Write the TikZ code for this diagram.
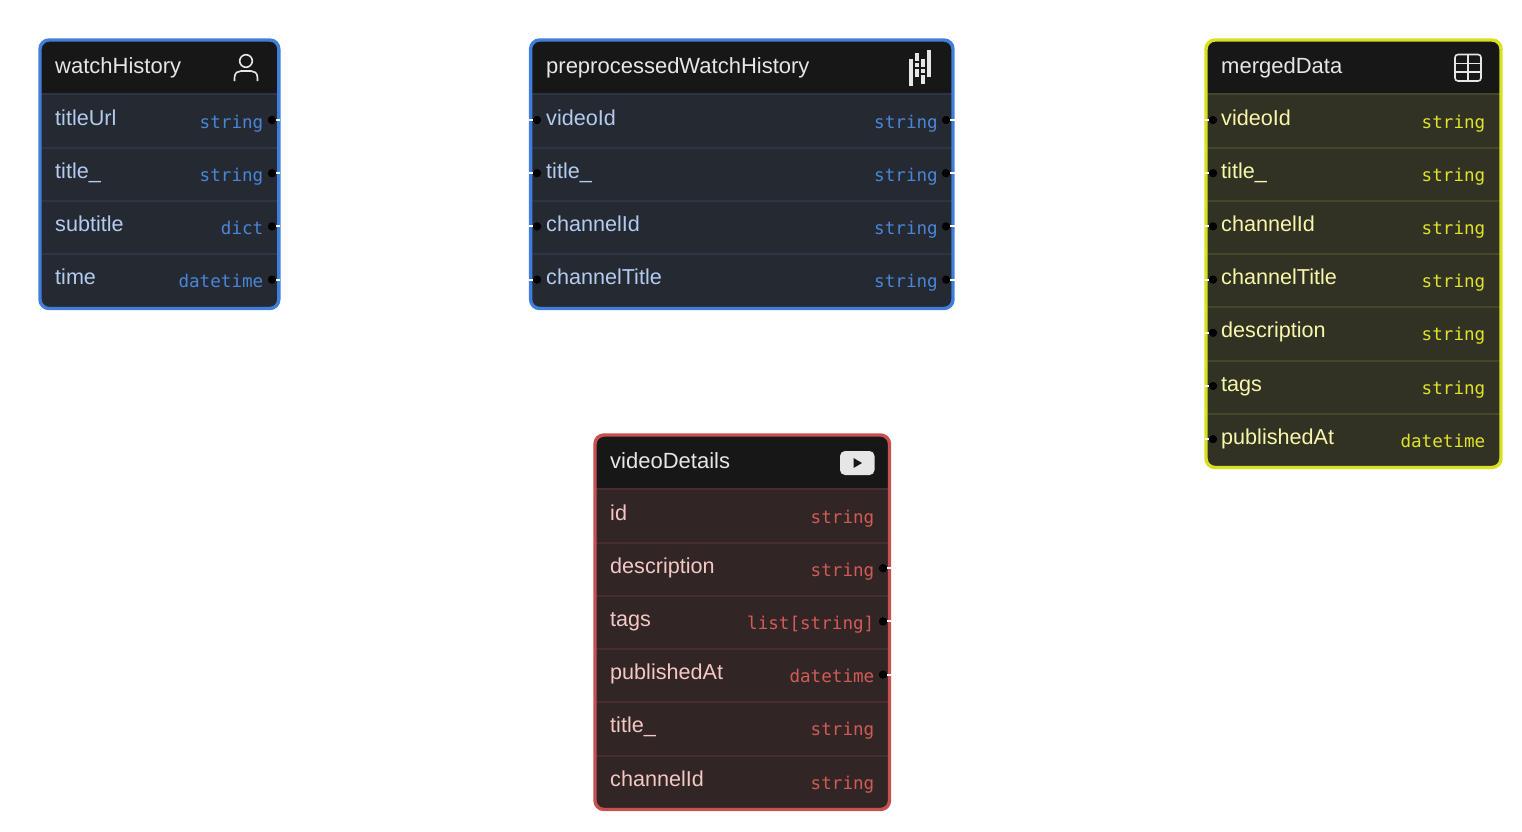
\documentclass[tikz,border=0pt]{standalone}
\usepackage{fontspec}
\setmainfont{Liberation Sans}
\setmonofont{DejaVu Sans Mono}
\definecolor{blueline}{HTML}{3F7FDB}
\definecolor{bluerow}{HTML}{242932}
\definecolor{bluesep}{HTML}{2B3545}
\definecolor{bluename}{HTML}{B4CBF0}
\definecolor{bluetype}{HTML}{4A86D8}
\definecolor{yellowline}{HTML}{D8E021}
\definecolor{yellowrow}{HTML}{323224}
\definecolor{yellowsep}{HTML}{45472A}
\definecolor{yellowname}{HTML}{F7F7AC}
\definecolor{yellowtype}{HTML}{E0E32B}
\definecolor{redline}{HTML}{C75050}
\definecolor{redrow}{HTML}{322525}
\definecolor{redsep}{HTML}{472D2D}
\definecolor{redname}{HTML}{F3C8C4}
\definecolor{redtype}{HTML}{D25B56}
\definecolor{headfill}{HTML}{171717}
\definecolor{headtext}{HTML}{E6E6E6}
\tikzset{
  cardbody/.style={line width=3.4pt,rounded corners=9pt},
  title/.style={anchor=base west,inner sep=0pt,text=headtext,font=\fontsize{22}{24}\selectfont},
  fieldname/.style={anchor=base west,inner sep=0pt,font=\fontsize{21.6}{24}\selectfont},
  fieldtype/.style={anchor=base east,inner sep=0pt,font=\ttfamily\fontsize{17.6}{20}\selectfont},
  handle/.style={circle,fill=black,inner sep=0pt,minimum size=8pt},
  stub/.style={white,line width=2pt},
  iconline/.style={headtext,line width=1.6pt}
}
\begin{document}
\begin{tikzpicture}[x=1pt,y=-1pt]
\useasboundingbox (0,0) rectangle (1522,831);

% watchHistory
\fill[cardbody,bluerow] (40,40) rectangle (278.8,308.5);
\fill[headfill] (40,93) [rounded corners=9pt] -- (40,40) -- (278.8,40) [sharp corners] -- (278.8,93) -- cycle;
\foreach \r in {0,1,2,3}
  \draw[bluesep,line width=2pt] (41,94.2+53.3*\r) -- (277,94.2+53.3*\r);
\draw[cardbody,draw=blueline] (40,40) rectangle (278.8,308.5);
\node[title] (wh) at (55,73) {watchHistory};
\foreach \r/\n/\t in {0/titleUrl/string,1/title\_/string,2/subtitle/dict,3/time/datetime} {
  \node[fieldname,text=bluename] (wh-name-\r) at (55,125+53.2*\r) {\n};
  \node[fieldtype,text=bluetype] (wh-type-\r) at (263.5,128+53.2*\r) {\t};
  \node[handle] (wh-out-\r) at (272,120+53.2*\r) {};
  \coordinate (wh-end-\r) at (280,120+53.2*\r);
  \draw[stub] (wh-out-\r) -- (wh-end-\r);
  \node[handle] at (wh-out-\r) {};
}
% person icon
\draw[iconline] (246,61) circle (6.3);
\draw[iconline] (234.5,81) -- (234.5,78) .. controls (234.5,72.5) and (238,71) .. (241,71) -- (251,71) .. controls (254,71) and (257.5,72.5) .. (257.5,78) -- (257.5,81);

% preprocessedWatchHistory
\fill[cardbody,bluerow] (530.6,40) rectangle (953,308.5);
\fill[headfill] (530.6,93) [rounded corners=9pt] -- (530.6,40) -- (953,40) [sharp corners] -- (953,93) -- cycle;
\foreach \r in {0,1,2,3}
  \draw[bluesep,line width=2pt] (532,94.2+53.3*\r) -- (952,94.2+53.3*\r);
\draw[cardbody,draw=blueline] (530.6,40) rectangle (953,308.5);
\node[title] (pv) at (546,73) {preprocessedWatchHistory};
\foreach \r/\n/\t in {0/videoId/string,1/title\_/string,2/channelId/string,3/channelTitle/string} {
  \node[fieldname,text=bluename] (pv-name-\r) at (546,125+53.2*\r) {\n};
  \node[fieldtype,text=bluetype] (pv-type-\r) at (938,128+53.2*\r) {\t};
  \node[handle] (pv-in-\r) at (537,120+53.2*\r) {};
  \node[handle] (pv-out-\r) at (946,120+53.2*\r) {};
  \coordinate (pv-start-\r) at (528.5,120+53.2*\r);
  \coordinate (pv-end-\r) at (954.5,120+53.2*\r);
  \draw[stub] (pv-start-\r) -- (pv-in-\r);
  \draw[stub] (pv-out-\r) -- (pv-end-\r);
  \node[handle] at (pv-in-\r) {};
  \node[handle] at (pv-out-\r) {};
}
% pandas icon
\fill[headtext] (909,59) rectangle (913.3,85.7);
\fill[headtext] (915,52.7) rectangle (919.3,60.7);
\fill[headtext] (915,62.7) rectangle (919.3,67);
\fill[headtext] (915,69) rectangle (919.3,77);
\fill[headtext] (921,59) rectangle (925.3,67);
\fill[headtext] (921,69) rectangle (925.3,73.3);
\fill[headtext] (921,75.3) rectangle (925.3,83.7);
\fill[headtext] (927,50.3) rectangle (931.3,77);

% mergedData
\fill[cardbody,yellowrow] (1206,40) rectangle (1501,467.5);
\fill[headfill] (1206,93) [rounded corners=9pt] -- (1206,40) -- (1501,40) [sharp corners] -- (1501,93) -- cycle;
\foreach \r in {0,1,2,3,4,5,6}
  \draw[yellowsep,line width=2pt] (1207,94.2+53.3*\r) -- (1500,94.2+53.3*\r);
\draw[cardbody,draw=yellowline] (1206,40) rectangle (1501,467.5);
\node[title] (md) at (1221,73) {mergedData};
\foreach \r/\n/\t in {0/videoId/string,1/title\_/string,2/channelId/string,3/channelTitle/string,4/description/string,5/tags/string,6/publishedAt/datetime} {
  \node[fieldname,text=yellowname] (md-name-\r) at (1221,125+53.2*\r) {\n};
  \node[fieldtype,text=yellowtype] (md-type-\r) at (1485.5,128+53.2*\r) {\t};
  \node[handle] (md-in-\r) at (1213,120+53.2*\r) {};
  \coordinate (md-start-\r) at (1204.5,120+53.2*\r);
  \draw[stub] (md-start-\r) -- (md-in-\r);
  \node[handle] at (md-in-\r) {};
}
% table icon
\draw[iconline,rounded corners=3pt] (1455,54.5) rectangle (1481,81);
\draw[iconline] (1468,54.5) -- (1468,81);
\draw[iconline] (1455,63.5) -- (1481,63.5);
\draw[iconline] (1455,72) -- (1481,72);

% videoDetails
\fill[cardbody,redrow] (595,435) rectangle (889.5,809.5);
\fill[headfill] (595,488) [rounded corners=9pt] -- (595,435) -- (889.5,435) [sharp corners] -- (889.5,488) -- cycle;
\foreach \r in {0,1,2,3,4,5}
  \draw[redsep,line width=2pt] (596,489.2+53.3*\r) -- (888.5,489.2+53.3*\r);
\draw[cardbody,draw=redline] (595,435) rectangle (889.5,809.5);
\node[title] (vd) at (610,468) {videoDetails};
\foreach \r/\n/\t in {0/id/string,1/description/string,2/tags/{list[string]},3/publishedAt/datetime,4/title\_/string,5/channelId/string} {
  \node[fieldname,text=redname] (vd-name-\r) at (610,520+53.2*\r) {\n};
  \node[fieldtype,text=redtype] (vd-type-\r) at (874.5,523+53.2*\r) {\t};
}
\foreach \r in {1,2,3} {
  \node[handle] (vd-out-\r) at (883,515+53.2*\r) {};
  \coordinate (vd-end-\r) at (891,515+53.2*\r);
  \draw[stub] (vd-out-\r) -- (vd-end-\r);
  \node[handle] at (vd-out-\r) {};
}
% play icon
\fill[headtext,rounded corners=5pt] (840,451) rectangle (874.5,475);
\fill[headfill] (853.5,458) -- (862,463) -- (853.5,468) -- cycle;
\end{tikzpicture}
\end{document}
